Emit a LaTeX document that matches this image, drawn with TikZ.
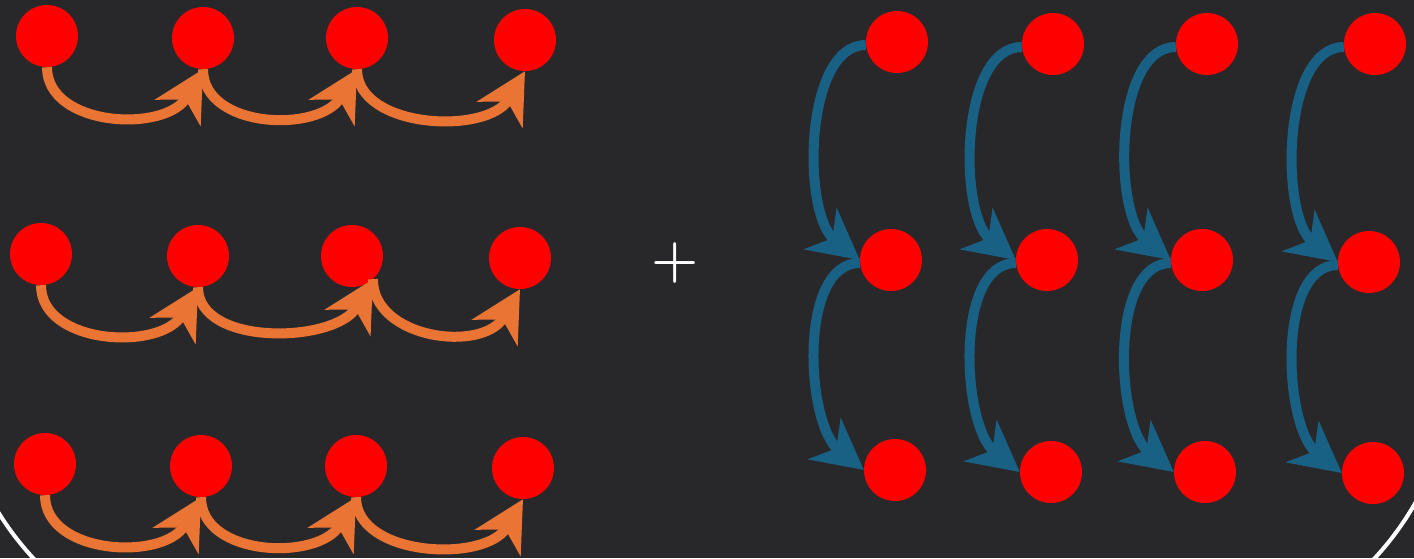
\documentclass[tikz,border=0pt]{standalone}
\usetikzlibrary{arrows.meta}
\definecolor{bgdark}{HTML}{28282A}
\definecolor{dotred}{HTML}{FF0000}
\definecolor{horange}{HTML}{EA7434}
\definecolor{vblue}{HTML}{186185}
\begin{document}
\begin{tikzpicture}[x=1pt,y=-1pt,
  dot/.style={circle,fill=dotred,minimum size=62pt,inner sep=0pt},
  tipshape/.style={-{Stealth[length=50pt,width=52pt,inset=15pt]}},
  harrow/.style={draw=horange,fill=none,line width=10pt,tipshape},
  varrow/.style={draw=vblue,fill=none,line width=10pt,tipshape}]
\useasboundingbox (0,0) rectangle (1414,558);
\fill[bgdark] (0,0) rectangle (1414,558);
% large rounded frame, only its lower corners fall inside the page
\begin{scope}
  \clip (0,0) rectangle (1414,558);
  \draw[white,line width=4pt,rounded corners=300pt] (-46.5,-900) rectangle (1454.5,654.5);
\end{scope}

% left block: three rows of dots
\node[dot] (h11) at (47,36) {};
\node[dot] (h12) at (203,38) {};
\node[dot] (h13) at (357,38) {};
\node[dot] (h14) at (525,40) {};
\node[dot] (h21) at (41,254) {};
\node[dot] (h22) at (198,256) {};
\node[dot] (h23) at (352,256) {};
\node[dot] (h24) at (520,258) {};
\node[dot] (h31) at (45,464) {};
\node[dot] (h32) at (201,466) {};
\node[dot] (h33) at (356,466) {};
\node[dot] (h34) at (523,468) {};

% right block: four columns of dots
\node[dot] (v11) at (897,42) {};
\node[dot] (v12) at (891,260) {};
\node[dot] (v13) at (895,470) {};
\node[dot] (v21) at (1053,44) {};
\node[dot] (v22) at (1047,260) {};
\node[dot] (v23) at (1051,472) {};
\node[dot] (v31) at (1207,44) {};
\node[dot] (v32) at (1202,260) {};
\node[dot] (v33) at (1205,472) {};
\node[dot] (v41) at (1375,44) {};
\node[dot] (v42) at (1369,262) {};
\node[dot] (v43) at (1373,473) {};

\node[text=white,inner sep=0pt,anchor=base,font=\fontsize{54}{54}\selectfont\bfseries] (plus) at (675,276.5) {+};

% horizontal links
\draw[harrow] (h11.south) .. controls +(0,60) and +(-37,64) .. (h12.south);
\draw[harrow] (h12.south) .. controls +(0,60) and +(-37,64) .. (h13.south);
\draw[harrow] (h13.south) .. controls +(0,60) and +(-37,64) .. (h14.south);
\draw[harrow] (h21.south) .. controls +(0,60) and +(-37,64) .. (h22.south);
\draw[harrow] (h22.south) .. controls +(0,60) and +(-37,64) .. (h23.-48);
\draw[harrow] (h23.-48) .. controls +(0,60) and +(-37,64) .. (h24.south);
\draw[harrow] (h31.south) .. controls +(0,60) and +(-37,64) .. (h32.south);
\draw[harrow] (h32.south) .. controls +(0,60) and +(-37,64) .. (h33.south);
\draw[harrow] (h33.south) .. controls +(0,60) and +(-37,64) .. (h34.south);

% vertical links
\foreach \c in {1,2,3,4}{
  \draw[varrow] ([yshift=-3pt]v\c1.west) .. controls +(-62,0) and +(-58,-46) .. (v\c2.west);
  \draw[varrow] ([yshift=-3pt]v\c2.west) .. controls +(-62,0) and +(-58,-46) .. (v\c3.west);
}
\end{tikzpicture}
\end{document}
